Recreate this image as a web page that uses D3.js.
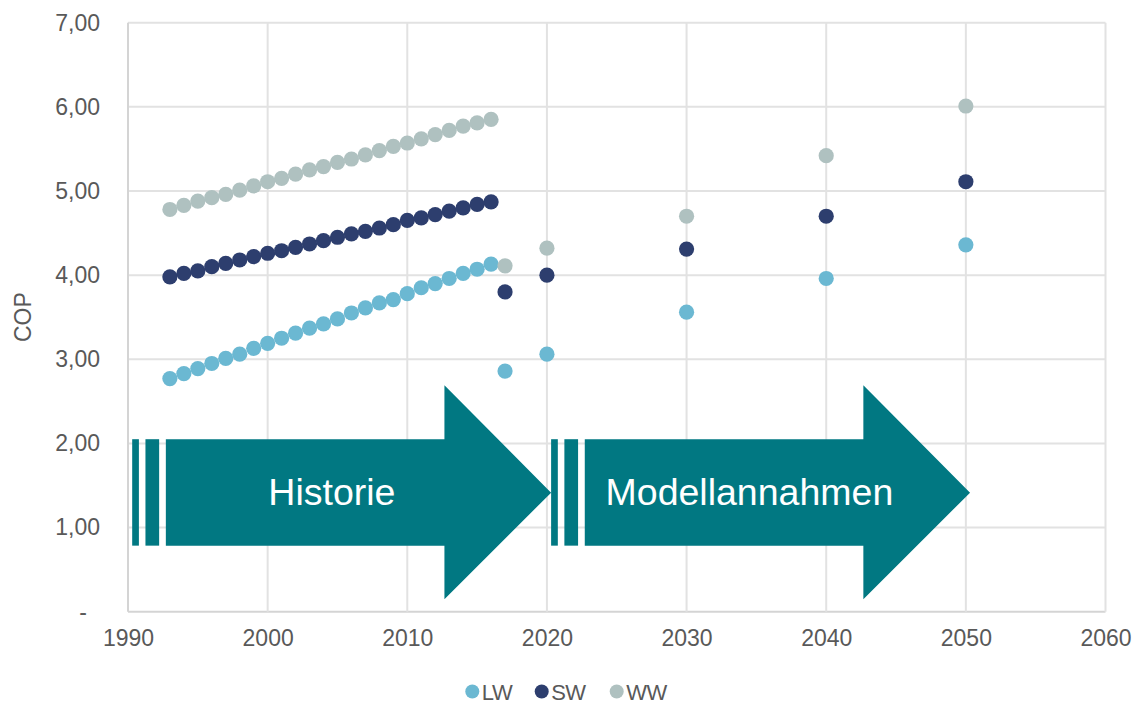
<!DOCTYPE html>
<html>
<head>
<meta charset="utf-8">
<script src="https://cdn.jsdelivr.net/npm/d3@7"></script>
<style>
  html, body { margin: 0; padding: 0; background: #ffffff; }
  svg { display: block; font-family: "Liberation Sans", Arial, sans-serif; }
</style>
</head>
<body>
<svg id="chart" width="1139" height="704"></svg>
<script>
// ---- data ----
const years = [1993, 1994, 1995, 1996, 1997, 1998, 1999, 2000, 2001, 2002, 2003, 2004,
               2005, 2006, 2007, 2008, 2009, 2010, 2011, 2012, 2013, 2014, 2015, 2016,
               2017, 2020, 2030, 2040, 2050];
const lw = [2.77, 2.83, 2.89, 2.95, 3.01, 3.06, 3.13, 3.19, 3.25, 3.31, 3.37, 3.42,
            3.48, 3.55, 3.61, 3.67, 3.71, 3.78, 3.85, 3.90, 3.96, 4.02, 4.07, 4.13,
            2.86, 3.06, 3.56, 3.96, 4.36];
const sw = [3.98, 4.02, 4.05, 4.10, 4.14, 4.18, 4.22, 4.26, 4.29, 4.33, 4.37, 4.41,
            4.45, 4.49, 4.52, 4.56, 4.60, 4.65, 4.68, 4.72, 4.76, 4.80, 4.84, 4.87,
            3.80, 4.00, 4.31, 4.70, 5.11];
const ww = [4.78, 4.83, 4.88, 4.92, 4.96, 5.01, 5.06, 5.11, 5.15, 5.20, 5.25, 5.29,
            5.34, 5.38, 5.43, 5.48, 5.53, 5.57, 5.62, 5.67, 5.72, 5.77, 5.81, 5.85,
            4.11, 4.32, 4.70, 5.42, 6.01];
const seriesNames = ["LW", "SW", "WW"];
const seriesValues = [lw, sw, ww];
const xTicks = [1990, 2000, 2010, 2020, 2030, 2040, 2050, 2060];
const yTicks = [0, 1, 2, 3, 4, 5, 6, 7];
const yLabel = "COP";
// phase arrows (annotation, in data units: years / COP)
const phaseLabels = ["Historie", "Modellannahmen"];
const phaseStart = [1990.3, 2020.3];
const phaseTip = [2020.3, 2050.3];
const phaseLabelX = [2004.6, 2034.5];

// ---- styles ----
const colors = ["#6bb8d2", "#2d3e6e", "#afc1c0"];
const arrowColor = "#017882";
const textColor = "#595959";
const gridColor = "#e2e2e2";

const svg = d3.select("#chart");
const W = 1139, H = 704;
const m = { left: 128, top: 22.7, right: 33.5, bottom: 92.3 };
const x = d3.scaleLinear().domain([1990, 2060]).range([m.left, W - m.right]);
const y = d3.scaleLinear().domain([0, 7]).range([H - m.bottom, m.top]);

// gridlines
const g = svg.append("g");
g.selectAll("line.h").data(yTicks).enter().append("line")
  .attr("x1", x(1990)).attr("x2", x(2060))
  .attr("y1", d => y(d)).attr("y2", d => y(d))
  .attr("stroke", d => d === 0 ? "#d4d4d4" : gridColor).attr("stroke-width", 2);
g.selectAll("line.v").data(xTicks).enter().append("line")
  .attr("x1", d => x(d)).attr("x2", d => x(d))
  .attr("y1", y(0)).attr("y2", y(7))
  .attr("stroke", d => d === 1990 ? "#d4d4d4" : gridColor).attr("stroke-width", 2);

// axes (labels only)
const fmt = v => v === 0 ? "-" : v.toFixed(2).replace(".", ",");
const yAxis = svg.append("g").attr("transform", `translate(${m.left - 28},0)`)
  .call(d3.axisLeft(y).tickValues(yTicks).tickSize(0).tickPadding(0).tickFormat(fmt));
yAxis.select(".domain").remove();
yAxis.selectAll("text").attr("fill", textColor).attr("font-size", 23)
  .attr("font-family", "Liberation Sans, Arial, sans-serif")
  .attr("dx", d => d === 0 ? -13 : 0);

const xAxis = svg.append("g").attr("transform", `translate(0,${H - m.bottom})`)
  .call(d3.axisBottom(x).tickValues(xTicks).tickSize(0).tickPadding(18).tickFormat(d3.format("d")));
xAxis.select(".domain").remove();
xAxis.selectAll("text").attr("fill", textColor).attr("font-size", 23)
  .attr("font-family", "Liberation Sans, Arial, sans-serif");

svg.append("text")
  .attr("transform", `translate(31,${y(3.5)}) rotate(-90)`)
  .attr("text-anchor", "middle").attr("fill", textColor)
  .attr("font-size", 23).text(yLabel);

// phase arrows
const aG = svg.append("g");
phaseLabels.forEach((lab, i) => {
  const s = phaseStart[i], t = phaseTip[i];
  const bodyTop = 2.05, bodyBot = 0.785, headTop = 2.69, headBot = 0.147, mid = 1.415;
  const headStart = t - 7.64;
  const bodyStart = s + 2.41;
  [[s, s + 0.48], [s + 0.95, s + 1.93]].forEach(b => {
    aG.append("rect").attr("x", x(b[0])).attr("width", x(b[1]) - x(b[0]))
      .attr("y", y(bodyTop)).attr("height", y(bodyBot) - y(bodyTop))
      .attr("fill", arrowColor);
  });
  const pts = [[bodyStart, bodyTop], [headStart, bodyTop], [headStart, headTop], [t, mid],
               [headStart, headBot], [headStart, bodyBot], [bodyStart, bodyBot]];
  aG.append("path")
    .attr("d", "M" + pts.map(p => `${x(p[0])},${y(p[1])}`).join("L") + "Z")
    .attr("fill", arrowColor);
  aG.append("text").attr("x", x(phaseLabelX[i])).attr("y", y(1.27))
    .attr("text-anchor", "middle").attr("fill", "#ffffff")
    .attr("font-size", 37.5).text(lab);
});

// dots
seriesValues.forEach((vals, si) => {
  svg.append("g").selectAll("circle").data(vals).enter().append("circle")
    .attr("cx", (d, i) => x(years[i])).attr("cy", d => y(d))
    .attr("r", 7.6).attr("fill", colors[si]);
});

// legend
const legX = [472.3, 541.7, 616.7];
const leg = svg.append("g");
seriesNames.forEach((n, i) => {
  leg.append("circle").attr("cx", legX[i]).attr("cy", 691.5).attr("r", 7).attr("fill", colors[i]);
  leg.append("text").attr("x", legX[i] + 9.5).attr("y", 699.5).attr("fill", textColor)
    .attr("font-size", 22).attr("letter-spacing", -0.5).text(n);
});
</script>
</body>
</html>
